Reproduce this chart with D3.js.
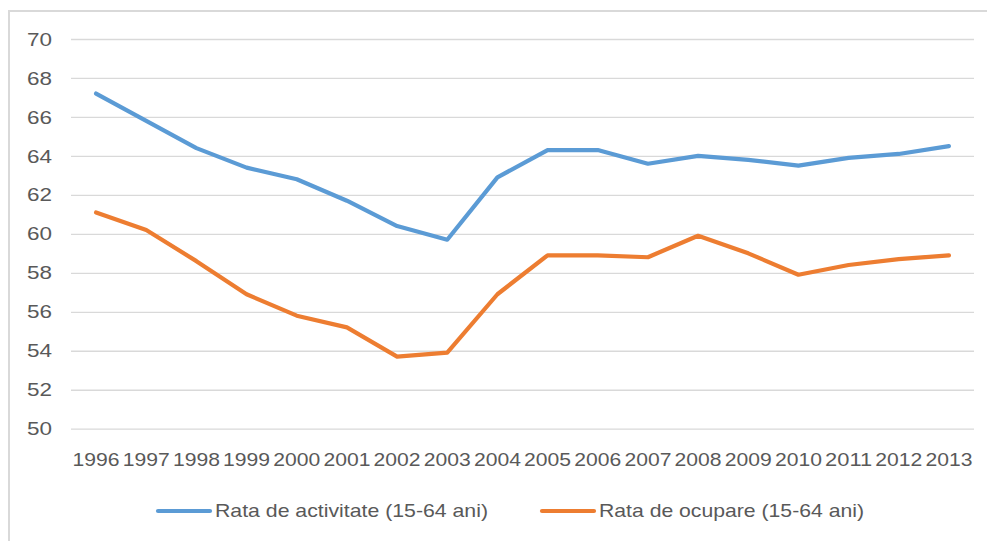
<!DOCTYPE html>
<html>
<head>
<meta charset="utf-8">
<script src="https://cdn.jsdelivr.net/npm/d3@7"></script>
<style>
  html, body { margin: 0; padding: 0; background: #fff; }
  svg { display: block; }
</style>
</head>
<body>
<svg id="chart" width="987" height="541"></svg>
<script>
// Years on the category axis
const years = ["1996","1997","1998","1999","2000","2001","2002","2003","2004",
               "2005","2006","2007","2008","2009","2010","2011","2012","2013"];

// Activity rate (15-64 years), %
const rataActivitate = [67.2, 65.8, 64.4, 63.4, 62.8, 61.7, 60.4, 59.7, 62.9,
                        64.3, 64.3, 63.6, 64.0, 63.8, 63.5, 63.9, 64.1, 64.5];

// Employment rate (15-64 years), %
const rataOcupare = [61.1, 60.2, 58.6, 56.9, 55.8, 55.2, 53.7, 53.9, 56.9,
                     58.9, 58.9, 58.8, 59.9, 59.0, 57.9, 58.4, 58.7, 58.9];

const yTicks = [50, 52, 54, 56, 58, 60, 62, 64, 66, 68, 70];

const seriesNames = ["Rata de activitate (15-64 ani)", "Rata de ocupare (15-64 ani)"];
const seriesColors = ["#5b9bd5", "#ed7d31"];

const svg = d3.select("#chart");
const W = 987, H = 541;
const plot = { left: 71, right: 974, top: 39, bottom: 428.7 };
const font = "'Liberation Sans', Arial, sans-serif";
const textColor = "#595959";

// Chart frame
svg.append("rect")
  .attr("x", 9).attr("y", 11)
  .attr("width", W + 20).attr("height", H + 20)
  .attr("fill", "#fff")
  .attr("stroke", "#d9d9d9")
  .attr("stroke-width", 2);

const x = d3.scaleBand().domain(years).range([plot.left, plot.right]).padding(0);
const y = d3.scaleLinear().domain([50, 70]).range([plot.bottom, plot.top]);

// Horizontal gridlines and value labels
const yAxis = d3.axisLeft(y).tickValues(yTicks)
  .tickSize(-(plot.right - plot.left)).tickPadding(19)
  .tickFormat(d3.format("d"));
const gy = svg.append("g").attr("transform", `translate(${plot.left},0)`).call(yAxis);
gy.select(".domain").remove();
gy.selectAll(".tick line").attr("stroke", "#d9d9d9").attr("stroke-width", 1.3);
gy.selectAll(".tick text")
  .attr("fill", textColor)
  .attr("textLength", 25)
  .attr("lengthAdjust", "spacingAndGlyphs")
  .style("font-family", font)
  .style("font-size", "19px");

// Category axis labels
const xAxis = d3.axisBottom(x).tickSize(0).tickPadding(24);
const gx = svg.append("g").attr("transform", `translate(0,${plot.bottom})`).call(xAxis);
gx.select(".domain").remove();
gx.selectAll(".tick text")
  .attr("fill", textColor)
  .attr("textLength", 47)
  .attr("lengthAdjust", "spacingAndGlyphs")
  .style("font-family", font)
  .style("font-size", "19px");

// Lines
const line = d3.line()
  .x((d, i) => x(years[i]) + x.bandwidth() / 2)
  .y(d => y(d));

[rataActivitate, rataOcupare].forEach((vals, k) => {
  svg.append("path")
    .datum(vals)
    .attr("fill", "none")
    .attr("stroke", seriesColors[k])
    .attr("stroke-width", 4.2)
    .attr("stroke-linejoin", "round")
    .attr("stroke-linecap", "round")
    .attr("d", line);
});

// Legend
const legend = [
  { x1: 158, x2: 210, tx: 215, len: 273 },
  { x1: 542, x2: 594, tx: 599, len: 265 }
];
legend.forEach((l, k) => {
  const g = svg.append("g");
  g.append("line")
    .attr("x1", l.x1).attr("x2", l.x2)
    .attr("y1", 511).attr("y2", 511)
    .attr("stroke", seriesColors[k])
    .attr("stroke-width", 4.2)
    .attr("stroke-linecap", "round");
  g.append("text")
    .attr("x", l.tx).attr("y", 511)
    .attr("dy", "0.35em")
    .attr("fill", textColor)
    .attr("textLength", l.len)
    .attr("lengthAdjust", "spacingAndGlyphs")
    .style("font-family", font)
    .style("font-size", "18.5px")
    .text(seriesNames[k]);
});
</script>
</body>
</html>
